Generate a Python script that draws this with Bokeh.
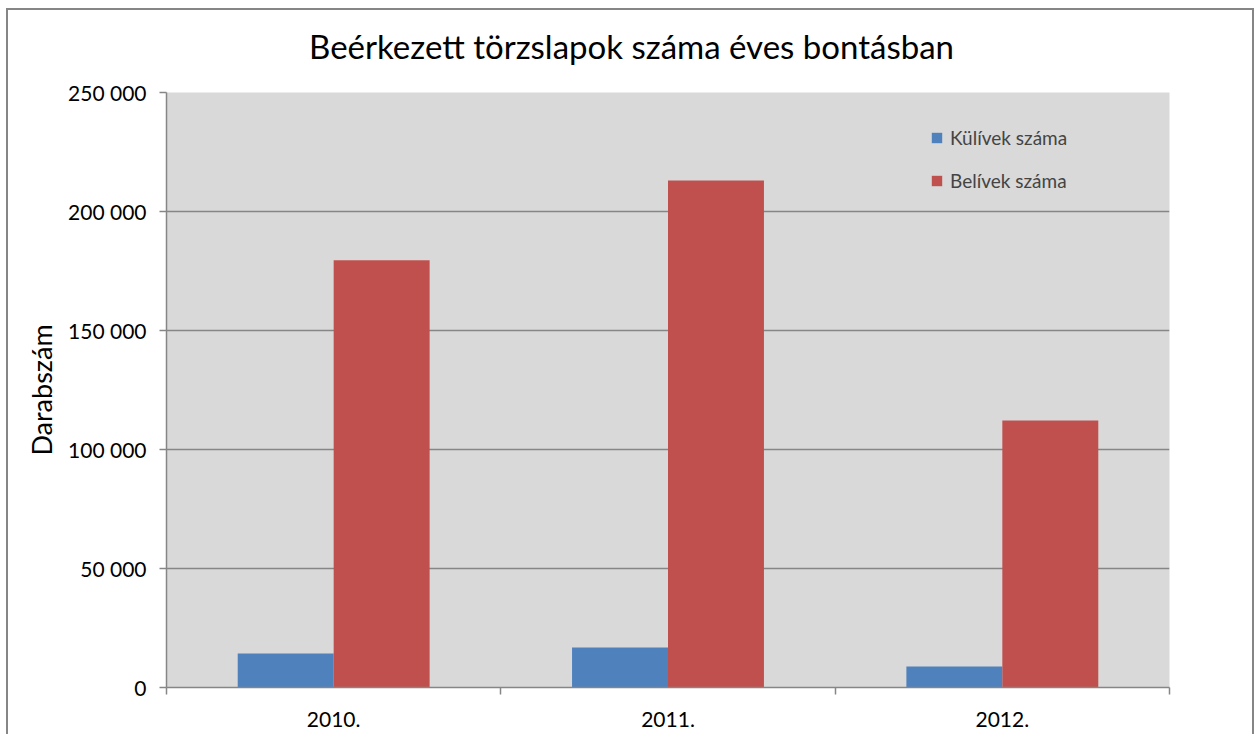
from bokeh.plotting import figure
from bokeh.models import Range1d, FixedTicker, Legend, LegendItem, LinearAxis, ColumnDataSource
from bokeh.transform import dodge
from bokeh.embed import file_html
from bokeh.resources import INLINE

years = ["2010.", "2011.", "2012."]
kulivek = [14300, 16800, 8800]
belivek = [179500, 213000, 112200]
y_ticks = [0, 50000, 100000, 150000, 200000, 250000]
title_text = "Beérkezett törzslapok száma éves bontásban"
y_label = "Darabszám"

FONT = "Lato"
GRID = "#868686"
BLUE = "#4F81BD"
RED = "#C0504D"

xc = [i + 0.5 for i in range(len(years))]
src = ColumnDataSource(dict(x=xc, kul=kulivek, bel=belivek))

YMAX = 250000
p = figure(width=1248, height=726,
           x_range=Range1d(0, len(years)), y_range=Range1d(0, YMAX),
           output_backend="svg", toolbar_location=None,
           min_border_left=158, min_border_right=87,
           min_border_top=82, min_border_bottom=49)
p.styles = {"margin-left": "6px", "margin-top": "8px",
            "border-left": "2px solid #868686", "border-top": "2px solid #868686",
            "border-right": "2px solid #868686"}

p.background_fill_color = "#D9D9D9"
p.border_fill_color = "white"
p.outline_line_color = None

bw = 0.287
r1 = p.vbar(x=dodge("x", -bw / 2), top="kul", width=bw, source=src,
            fill_color=BLUE, line_color=None)
r2 = p.vbar(x=dodge("x", bw / 2), top="bel", width=bw, source=src,
            fill_color=RED, line_color=None)

# y axis
yax = p.left[0]
yax.ticker = FixedTicker(ticks=y_ticks)
yax.major_label_overrides = {t: f"{t:,}".replace(",", " ") for t in y_ticks}
yax.major_tick_out = 7
yax.major_tick_in = 0
yax.minor_tick_out = 0
yax.minor_tick_in = 0
yax.axis_line_color = GRID
yax.axis_line_width = 1.5
yax.major_tick_line_color = GRID
yax.major_tick_line_width = 1.5
yax.major_label_text_font = FONT
yax.major_label_text_font_size = "21px"
yax.major_label_text_color = "black"
yax.major_label_standoff = 13
yax.axis_label = y_label
yax.axis_label_text_font = FONT
yax.axis_label_text_font_size = "27px"
yax.axis_label_text_font_style = "normal"
yax.axis_label_text_color = "black"
yax.axis_label_standoff = 7

# x axis (below)
xax = p.below[0]
xax.ticker = FixedTicker(ticks=xc, minor_ticks=list(range(len(years) + 1)))
xax.major_label_overrides = {v: lab for v, lab in zip(xc, years)}
xax.major_tick_out = 0
xax.major_tick_in = 0
xax.minor_tick_out = 7
xax.minor_tick_in = 0
xax.minor_tick_line_color = GRID
xax.minor_tick_line_width = 1.5
xax.axis_line_color = GRID
xax.axis_line_width = 1.5
xax.major_label_text_font = FONT
xax.major_label_text_font_size = "21px"
xax.major_label_text_color = "black"
xax.major_label_standoff = 17

p.xgrid.grid_line_color = None
p.ygrid.ticker = FixedTicker(ticks=y_ticks)
p.ygrid.grid_line_color = GRID
p.ygrid.grid_line_width = 1.5

# chart title: centred over the whole chart area (not the plot area)
tx = round(len(years) * (631 - 166) / 1003.0, 3)
tax = LinearAxis(ticker=FixedTicker(ticks=[tx], minor_ticks=[]),
                 major_label_overrides={tx: title_text},
                 axis_line_color=None, major_tick_line_color=None,
                 minor_tick_line_color=None, major_tick_out=0, major_tick_in=0,
                 minor_tick_out=0, minor_tick_in=0,
                 major_label_text_font=FONT, major_label_text_font_size="33px",
                 major_label_text_color="black", major_label_standoff=27)
p.add_layout(tax, "above")

legend = Legend(items=[LegendItem(label="Külívek száma", renderers=[r1]),
                       LegendItem(label="Belívek száma", renderers=[r2])],
                location=(764, 495), background_fill_alpha=0, border_line_color=None,
                glyph_width=13, glyph_height=13, label_text_font=FONT,
                label_text_font_size="19px", padding=0, margin=0, spacing=20,
                label_height=20, label_standoff=7)
p.add_layout(legend)

open("out.html", "w").write(file_html(p, INLINE))
